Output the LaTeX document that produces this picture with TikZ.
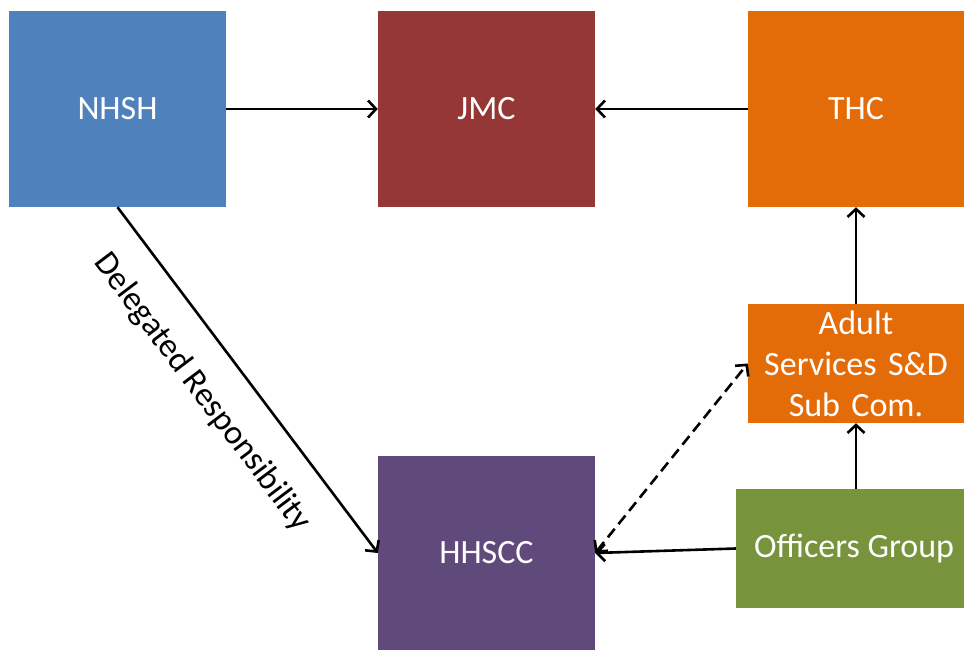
\documentclass[tikz,border=0pt]{standalone}
\usepackage{fontspec}
\setmainfont{Carlito}
\usetikzlibrary{arrows.meta}
\definecolor{cblue}{HTML}{4F81BD}
\definecolor{cred}{HTML}{953735}
\definecolor{corange}{HTML}{E36C09}
\definecolor{cpurple}{HTML}{604A7B}
\definecolor{cgreen}{HTML}{77933C}
\begin{document}
\begin{tikzpicture}[x=1pt,y=-1pt,
  box/.style={draw=none, fill=#1, text=white, inner sep=0pt, align=center,
    font=\fontsize{34}{41}\selectfont},
  tip/.style={Straight Barb[length=8pt,width=17pt,line width=2.6pt]},
  conn/.style={line width=2.6pt, -{Straight Barb[length=8pt,width=17pt,line width=2.6pt]}}
]
\useasboundingbox (0,0) rectangle (964,650);
\node[box=cblue, minimum width=217pt, minimum height=196pt] (nhsh) at (117.5,109) {NHSH};
\node[box=cred, minimum width=217pt, minimum height=196pt] (jmc) at (486.5,109) {JMC};
\node[box=corange, minimum width=216pt, minimum height=196pt] (thc) at (856,109) {THC};
\node[box=corange, minimum width=216pt, minimum height=119pt, text width=185pt] (as) at (856,363.5) {Adult\\Services S\&D\\Sub Com.};
\node[box=cgreen, minimum width=228pt, minimum height=119pt] (og) at (850,548.5) {\hspace*{8pt}Officers Group};
\node[box=cpurple, minimum width=217pt, minimum height=194pt] (hh) at (486.5,553) {HHSCC};

\draw[conn] (nhsh.east) -- (jmc.west);
\draw[conn] (thc.west) -- (jmc.east);
\draw[conn] (as.north) -- (thc.south -| as.north);
\draw[conn] (og.north -| as.south) -- (as.south);
\draw[conn] (og.west) -- (hh.east);
\draw[line width=2.6pt, dash pattern=on 11pt off 6pt,
  {Straight Barb[length=8pt,width=17pt,line width=2.6pt]}-{Straight Barb[length=8pt,width=17pt,line width=2.6pt]}]
  (hh.east) -- (as.west);
\draw[conn] (nhsh.south) -- node[sloped, pos=0.46, below=28pt, anchor=north, inner sep=0pt,
  font=\fontsize{34}{41}\selectfont] (lbl) {Delegated Responsibility} (hh.west);
\end{tikzpicture}
\end{document}
